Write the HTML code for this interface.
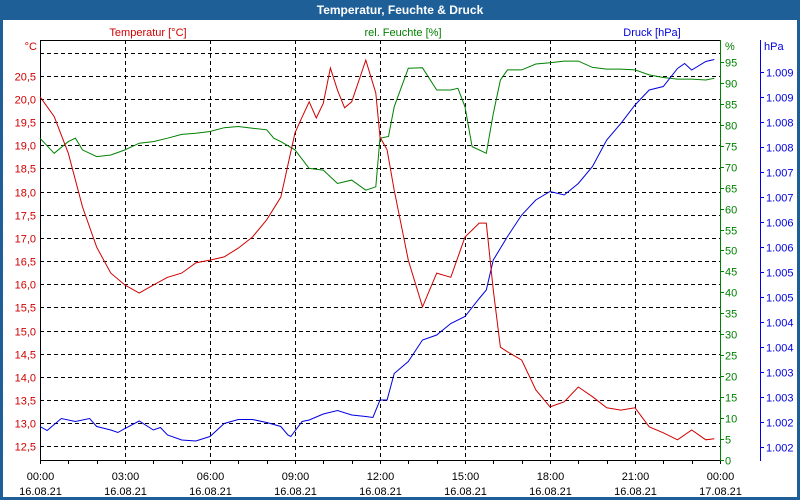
<!DOCTYPE html>
<html><head><meta charset="utf-8"><style>
body{margin:0;width:800px;height:500px;overflow:hidden;background:#fff;font-family:"Liberation Sans",sans-serif}
#win{position:absolute;left:0;top:0;width:800px;height:500px;box-sizing:border-box;border:3px solid #1e5f98;border-top:none;background:#fff}
#title{position:absolute;left:0;top:0;width:800px;height:20px;background:#1e5f98;color:#fff;font-weight:bold;font-size:12px;text-align:center;line-height:20px}
svg text{font-family:"Liberation Sans",sans-serif;font-size:11px}
</style></head><body>
<div id="win"></div>
<div id="title">Temperatur, Feuchte &amp; Druck</div>
<svg id="chart" width="800" height="500" style="position:absolute;left:0;top:0"></svg>
<script>
const tempTimes=[0,0.5,1,1.5,2,2.5,3,3.5,4,4.5,5,5.5,6,6.5,7,7.5,8,8.5,9,9.25,9.5,9.75,10,10.25,10.5,10.75,11,11.5,11.85,12,12.25,12.5,13,13.5,14,14.5,15,15.5,15.75,16,16.25,16.5,17,17.5,18,18.5,19,19.5,20,20.5,21,21.5,22,22.5,23,23.5,23.8];
const tempValues=[20.05,19.62,18.83,17.67,16.8,16.24,15.98,15.81,15.98,16.15,16.24,16.46,16.52,16.59,16.78,17.02,17.39,17.88,19.27,19.61,19.94,19.59,19.91,20.67,20.19,19.81,19.94,20.84,20.13,19.18,18.9,18.03,16.52,15.51,16.24,16.15,17.02,17.32,17.32,15.87,14.64,14.54,14.36,13.72,13.35,13.46,13.78,13.57,13.33,13.28,13.33,12.92,12.79,12.64,12.85,12.64,12.66];
const humTimes=[0,0.5,1,1.25,1.5,2,2.5,3,3.5,4,4.5,5,5.5,6,6.5,7,7.5,8,8.25,8.5,9,9.5,10,10.5,11,11.5,11.85,12,12.3,12.5,13,13.5,14,14.5,14.75,15,15.25,15.75,16,16.25,16.5,17,17.5,18,18.5,19,19.5,20,20.5,21,21.5,22,22.5,23,23.5,23.8];
const humValues=[76.8,73.2,76,76.8,74,72.4,72.8,74,75.6,76,76.8,77.7,78,78.4,79.3,79.6,79.2,78.8,76.8,76,74,69.6,69.2,66,66.8,64.4,65.2,76.8,77.2,84.3,93.5,93.6,88.3,88.3,88.7,84.3,74.8,73.2,82.7,90.7,93.1,93.1,94.5,94.8,95.2,95.2,93.7,93.3,93.3,93.1,91.9,91.3,90.9,90.9,90.7,91.1];
const presTimes=[0,0.25,0.75,1.25,1.75,2,2.5,2.75,3,3.5,4,4.25,4.5,5,5.5,6,6.5,7,7.5,8,8.5,8.75,8.85,9.25,9.5,10,10.5,11,11.5,11.75,12,12.25,12.5,13,13.5,14,14.5,15,15.5,15.75,16,16.5,17,17.5,18,18.5,19,19.5,20,20.5,21,21.5,22,22.5,22.75,23,23.5,23.8];
const presValues=[1002.16,1002.08,1002.32,1002.26,1002.32,1002.16,1002.09,1002.04,1002.12,1002.27,1002.09,1002.14,1001.99,1001.89,1001.87,1001.96,1002.22,1002.3,1002.3,1002.24,1002.16,1001.99,1001.96,1002.26,1002.29,1002.41,1002.48,1002.39,1002.36,1002.34,1002.69,1002.69,1003.22,1003.46,1003.89,1003.99,1004.22,1004.36,1004.72,1004.89,1005.49,1005.96,1006.39,1006.69,1006.86,1006.79,1007.02,1007.36,1007.89,1008.22,1008.59,1008.89,1008.96,1009.32,1009.42,1009.29,1009.46,1009.5];
const xTickHours=[0,3,6,9,12,15,18,21,24];
const xTickTimes=["00:00","03:00","06:00","09:00","12:00","15:00","18:00","21:00","00:00"];
const xTickDates=["16.08.21","16.08.21","16.08.21","16.08.21","16.08.21","16.08.21","16.08.21","16.08.21","17.08.21"];
const tempTicks=[12.5,13,13.5,14,14.5,15,15.5,16,16.5,17,17.5,18,18.5,19,19.5,20,20.5,21];
const tempTickLabels=["12,5","13,0","13,5","14,0","14,5","15,0","15,5","16,0","16,5","17,0","17,5","18,0","18,5","19,0","19,5","20,0","20,5",""];
const humTicks=[0,5,10,15,20,25,30,35,40,45,50,55,60,65,70,75,80,85,90,95];
const presTicks=[1001.75,1002.25,1002.75,1003.25,1003.75,1004.25,1004.75,1005.25,1005.75,1006.25,1006.75,1007.25,1007.75,1008.25,1008.75,1009.25];
const presTickLabels=["1.002","1.002","1.003","1.003","1.004","1.004","1.005","1.005","1.006","1.006","1.007","1.007","1.008","1.008","1.009","1.009"];

const L=40,R=720,T=40,B=460;
const xS=h=>L+h/24*(R-L);
const yT=v=>99+(20-v)*46.3;
const yH=v=>B-v*4.19;
const yP=v=>447-(v-1001.75)*50;
const svg=document.getElementById('chart');
const NS='http://www.w3.org/2000/svg';
function mk(tag,attrs,parent){const e=document.createElementNS(NS,tag);for(const k in attrs)e.setAttribute(k,attrs[k]);(parent||svg).appendChild(e);return e;}
function txt(s,x,y,anchor,color){const e=mk('text',{x:x,y:y,'text-anchor':anchor,fill:color});e.textContent=s;return e;}

// horizontal grid
tempTicks.forEach((v,i)=>{
  const y=Math.round(yT(v))+0.5;
  const g=mk('line',{x1:L,x2:R,y1:y,y2:y,stroke:'#000','stroke-dasharray':'4,3'});
  
  
  const t=txt(tempTickLabels[i],36,y+4,'end','#d00000');
  
  
});
// vertical grid
xTickHours.forEach((h,i)=>{
  const x=Math.round(xS(h))+0.5;
  if(h>0&&h<24){
    const g=mk('line',{x1:x,x2:x,y1:T,y2:B,stroke:'#000','stroke-dasharray':'4,3'});
    
    
  }
  const a=txt(xTickTimes[i],x,480,'middle','#000');
  
  
  const b=txt(xTickDates[i],x,495,'middle','#000');
  
  
});
for(let h=0;h<=24;h++){
  const x=Math.round(xS(h))+0.5;
  const k=mk('line',{x1:x,x2:x,y1:B,y2:B+4,stroke:'#000'});
  
  
}
// frame
let f=mk('line',{x1:L+0.5,x2:L+0.5,y1:T,y2:B+1,stroke:'#000'});
f=mk('line',{x1:L,x2:R,y1:T+0.5,y2:T+0.5,stroke:'#000'});
f=mk('line',{x1:L,x2:R,y1:B+0.5,y2:B+0.5,stroke:'#000'});
f=mk('line',{x1:R+0.5,x2:R+0.5,y1:T,y2:B+1,stroke:'#008000'});
f=mk('line',{x1:760.5,x2:760.5,y1:T,y2:B+1,stroke:'#0000e0'});
humTicks.forEach(v=>{
  const y=Math.round(yH(v))+0.5;
  const k=mk('line',{x1:R,x2:R+4,y1:y,y2:y,stroke:'#008000'});
  
  
  const t=txt(String(v),725,y+4,'start','#008000');
  
  
});
presTicks.forEach((v,i)=>{
  const y=Math.round(yP(v))+0.5;
  const k=mk('line',{x1:760,x2:764,y1:y,y2:y,stroke:'#0000e0'});
  
  
  const t=txt(presTickLabels[i],766,y+4,'start','#0000e0');
  
  
});
// unit labels & series titles
let u=txt('°C',37,50,'end','#d00000');
u=txt('%',725,50,'start','#008000');
u=txt('hPa',764,50,'start','#0000e0');
u=txt('Temperatur [°C]',148,36,'middle','#d00000');
u=txt('rel. Feuchte [%]',403,36,'middle','#008000');
u=txt('Druck [hPa]',652,36,'middle','#0000e0');
// series
function line(times,vals,yf,color){
  return mk('polyline',{points:times.map((t,i)=>xS(t).toFixed(1)+','+yf(vals[i]).toFixed(1)).join(' '),fill:'none',stroke:color,'stroke-width':1});
}
let s=line(humTimes,humValues,yH,'#008000');
s=line(presTimes,presValues,yP,'#0000e0');
s=line(tempTimes,tempValues,yT,'#d00000');
</script>
</body></html>
